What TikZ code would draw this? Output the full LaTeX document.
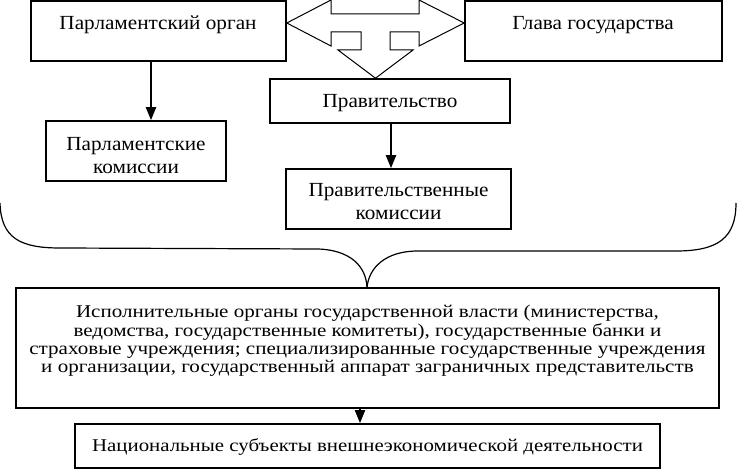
\documentclass[tikz,border=0pt]{standalone}
\usepackage{fontspec}
\setmainfont{Liberation Serif}
\newfontfamily\topfont[FakeStretch=1.06]{Liberation Serif}
\newfontfamily\exfont[FakeStretch=1.17]{Liberation Serif}
\newfontfamily\natfont[FakeStretch=1.16]{Liberation Serif}
\usetikzlibrary{arrows.meta}
\begin{document}
\begin{tikzpicture}[x=1pt,y=-1pt,
  box/.style={draw, line width=1.6pt, inner sep=0pt},
  big/.style={inner sep=0pt, align=center, font=\topfont\fontsize{20}{23}\selectfont},
  small/.style={inner sep=0pt, align=center, font=\exfont\fontsize{18}{18.3}\selectfont},
  natstyle/.style={inner sep=0pt, align=center, font=\natfont\fontsize{18}{20}\selectfont},
  conn/.style={line width=2pt, -{Triangle[length=13pt,width=10pt]}},
  brace/.style={line width=1.2pt},
  blockarrow/.style={draw, fill=white, line width=1pt, line join=miter}
]
\useasboundingbox (0,0) rectangle (737,470);

% boxes
\node[box, minimum width=255pt, minimum height=60pt] (b1)  at (158.5,31) {};
\node[box, minimum width=257pt, minimum height=60pt] (b2)  at (593.5,31) {};
\node[box, minimum width=240pt, minimum height=44pt] (gov) at (390,101) {};
\node[box, minimum width=180pt, minimum height=60pt] (pc)  at (136,151) {};
\node[box, minimum width=225pt, minimum height=60pt] (gc)  at (398.5,199) {};
\node[box, minimum width=703pt, minimum height=120pt] (ex) at (367.5,348) {};
\node[box, minimum width=585pt, minimum height=44pt] (nat) at (367.5,446) {};

% texts
\node[big] (t1) at (158,25) {Парламентский орган};
\node[big] (t2) at (593,25) {Глава государства};
\node[big] (tgov) at (390,103) {Правительство};
\node[big] (tpc) at (136,156) {Парламентские\\комиссии};
\node[big] (tgc) at (398.5,202) {Правительственные\\комиссии};
\node[small] (tex) at (367.5,341) {Исполнительные органы государственной власти (министерства,\\ведомства, государственные комитеты), государственные банки и\\страховые учреждения; специализированные государственные учреждения\\и организации, государственный аппарат заграничных представительств};
\node[natstyle] (tnat) at (367.5,447) {Национальные субъекты внешнеэкономической деятельности};

% connector x positions
\coordinate (x1) at (151,0);
\coordinate (x2) at (391,0);
\coordinate (x3) at (360,0);
\coordinate (tip) at (367,0);

\draw[conn] (b1.south -| x1) -- (pc.north -| x1);
\draw[conn] (gov.south -| x2) -- (gc.north -| x2);
\draw[conn] (ex.south -| x3) -- (nat.north -| x3);

% three-way block arrow
\draw[blockarrow] (b1.east |- 0,23) -- (331,0) -- (331,14) -- (419,14) -- (419,0)
  -- (b2.west |- 0,23) -- (419,46) -- (419,32) -- (390,32) -- (390,50) -- (413,50)
  -- (gov.north -| 375.5,0) -- (338,50) -- (361,50) -- (361,32) -- (331,32) -- (331,46) -- cycle;

% brace
\draw[brace] (0,203) .. controls (1,238) and (20,248) .. (60,248) -- (318,249)
  .. controls (350,250) and (366,266) .. (ex.north -| tip);
\draw[brace] (ex.north -| tip) .. controls (369,268) and (385,251) .. (418,251)
  -- (676,251) .. controls (718,251) and (736,238) .. (736,203);
\end{tikzpicture}
\end{document}
